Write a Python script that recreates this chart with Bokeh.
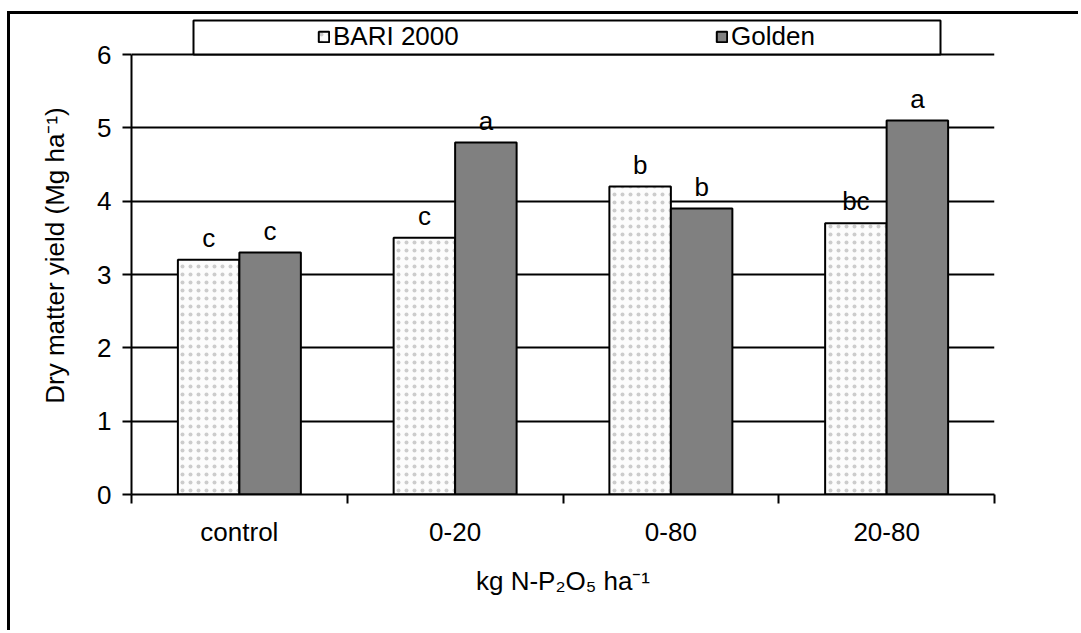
import numpy as np
from bokeh.plotting import figure
from bokeh.models import Range1d, FixedTicker, BoxAnnotation, Legend, LegendItem, ColumnDataSource
from bokeh.embed import file_html
from bokeh.resources import INLINE
from bokeh.core.properties import value

categories = ["control", "0-20", "0-80", "20-80"]
bari_2000 = [3.2, 3.5, 4.2, 3.7]
golden = [3.3, 4.8, 3.9, 5.1]
bari_letters = ["c", "c", "b", "bc"]
golden_letters = ["c", "a", "b", "a"]
y_ticks = [0, 1, 2, 3, 4, 5, 6]

FONT = "Liberation Sans"
FS = "26px"
bar_w = 0.285
idx = np.arange(len(categories)) + 0.5

src_b = ColumnDataSource(dict(x=idx - bar_w / 2, top=bari_2000, lab=bari_letters))
src_g = ColumnDataSource(dict(x=idx + bar_w / 2, top=golden, lab=golden_letters))

y_top = 6 + 38 / 73.33
p = figure(width=1071, height=619, output_backend="svg", toolbar_location=None,
           x_range=Range1d(0, len(categories)), y_range=Range1d(0, y_top),
           min_border_left=121, min_border_right=87, min_border_top=2, min_border_bottom=139,
           margin=(11, 0, 0, 7),
           styles={"border-top": "3px solid black", "border-left": "3px solid black"})
p.outline_line_color = None
p.background_fill_color = "white"
p.border_fill_color = "white"

# axes
p.xaxis.ticker = FixedTicker(ticks=list(idx), minor_ticks=list(range(len(categories) + 1)))
p.xaxis.major_label_overrides = {float(v): c for v, c in zip(idx, categories)}
p.xaxis.major_tick_out = 0
p.xaxis.major_tick_in = 0
p.xaxis.minor_tick_out = 9
p.xaxis.minor_tick_in = 0
p.xaxis.minor_tick_line_width = 2
p.xaxis.axis_line_width = 2
p.xaxis.major_label_standoff = 13
p.xaxis.axis_label = "kg N-P₂O₅ ha⁻¹"
p.xaxis.axis_label_standoff = 16

p.yaxis.ticker = FixedTicker(ticks=y_ticks)
p.yaxis.bounds = (0, 6)
p.yaxis.major_tick_out = 9
p.yaxis.major_tick_in = 0
p.yaxis.major_tick_line_width = 2
p.yaxis.axis_line_width = 2
p.yaxis.major_label_standoff = 11
p.yaxis.axis_label = "Dry matter yield (Mg ha⁻¹)"
p.yaxis.axis_label_standoff = 24

for ax in (p.xaxis, p.yaxis):
    ax.axis_line_color = "black"
    ax.major_tick_line_color = "black"
    ax.minor_tick_line_color = "black"
    ax.major_label_text_font = FONT
    ax.major_label_text_font_size = FS
    ax.major_label_text_color = "black"
    ax.axis_label_text_font = FONT
    ax.axis_label_text_font_size = FS
    ax.axis_label_text_font_style = "normal"
    ax.axis_label_text_color = "black"

p.xgrid.visible = False
p.ygrid.grid_line_color = "black"
p.ygrid.grid_line_width = 2

# bars
rb = p.vbar(x="x", top="top", bottom=0, width=bar_w, source=src_b,
            fill_color="#fcfcfc", line_color="black", line_width=2,
            hatch_pattern=".", hatch_color="#cccccc", hatch_scale=8, hatch_weight=1.1)
rg = p.vbar(x="x", top="top", bottom=0, width=bar_w, source=src_g,
            fill_color="#808080", line_color="black", line_width=2)

for s in (src_b, src_g):
    p.text(x="x", y="top", text="lab", source=s, text_align="center",
           text_baseline="alphabetic", y_offset=-22, text_font=value(FONT),
           text_font_size=FS, text_color="black")

# legend box and legend
cat_px = 863 / len(categories)
box = BoxAnnotation(left=(193 - 131) / cat_px, right=(940 - 131) / cat_px,
                    bottom=6, top=6 + 34 / 73.33,
                    fill_color="white", fill_alpha=1, line_color="black",
                    line_alpha=1, line_width=2)
p.add_layout(box)

legend = Legend(items=[LegendItem(label="BARI 2000", renderers=[rb]),
                       LegendItem(label="Golden", renderers=[rg])],
                orientation="horizontal", location=(186, 442), padding=0, margin=0,
                spacing=132, glyph_width=13, glyph_height=13, label_standoff=3,
                label_width=250, border_line_color=None, background_fill_alpha=0,
                label_text_font=FONT, label_text_font_size=FS, label_text_color="black")
p.add_layout(legend)

open("out.html", "w").write(file_html(p, INLINE))
